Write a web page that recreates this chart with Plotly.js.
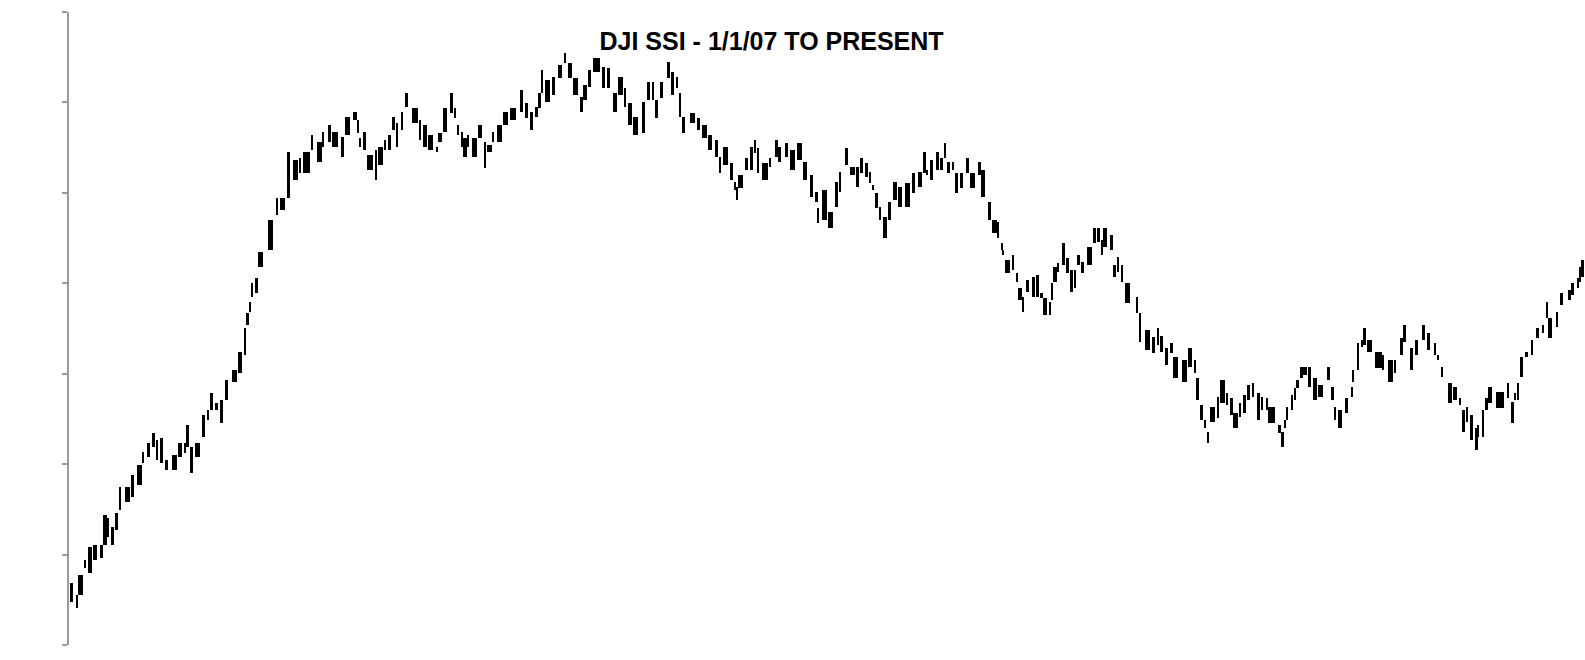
<!DOCTYPE html>
<html>
<head>
<meta charset="utf-8">
<script src="https://cdn.plot.ly/plotly-3.0.1.min.js"></script>
<style>html,body{margin:0;padding:0;background:#fff;}#chart{width:1585px;height:660px;}</style>
</head>
<body>
<div id="chart"></div>
<script>
// Trading sessions since 1/1/07 (first and last session of each high-low bar group)
const startDay = [2,9,10,17,20,25,32,35,40,44,47,52,57,64,69,75,79,84,89,92,97,104,110,117,119,122,127,134,140,142,147,152,157,164,170,177,179,182,184,187,190,200,209,212,219,225,232,235,244,249,255,260,264,274,277,285,290,292,295,299,308,310,317,320,324,329,334,337,344,352,355,360,369,370,375,382,387,390,394,395,400,404,410,417,419,425,429,435,441,452,457,462,467,470,474,477,484,490,497,500,505,512,515,520,525,534,539,545,550,557,560,565,574,579,585,587,592,599,604,609,612,614,622,629,634,640,647,652,655,662,667,669,670,677,682,687,690,694,702,707,710,717,722,729,735,742,747,750,754,760,767,772,777,782,789,792,797,802,805,807,812,815,820,825,830,837,844,850,855,859,862,869,872,877,879,885,887,892,899,902,910,913,920,924,930,934,935,937,945,949,950,955,959,964,969,972,975,982,984,985,990,994,999,1002,1007,1009,1014,1019,1025,1029,1034,1035,1042,1045,1050,1054,1057,1069,1072,1077,1084,1090,1092,1097,1102,1105,1114,1120,1127,1129,1132,1137,1140,1142,1150,1152,1159,1162,1165,1172,1175,1179,1185,1189,1194,1199,1200,1210,1214,1217,1219,1224,1227,1229,1232,1235,1240,1245,1250,1259,1264,1267,1270,1277,1284,1285,1290,1294,1295,1299,1307,1315,1320,1327,1332,1335,1342,1347,1354,1359,1367,1370,1374,1380,1385,1392,1394,1399,1402,1407,1410,1415,1417,1420,1427,1440,1444,1447,1450,1452,1457,1464,1469,1475,1479,1480,1489,1492,1500,1504,1510,1512,1514];
const endDay = [5,9,15,17,24,29,34,39,40,45,50,52,62,65,74,75,82,87,89,95,100,109,114,117,120,125,132,137,140,145,149,155,160,169,174,177,180,182,184,189,195,205,209,217,222,230,232,242,244,254,255,262,270,275,282,289,290,292,297,305,308,315,317,322,327,329,334,340,350,352,359,365,369,374,379,385,387,390,394,399,400,409,414,417,424,425,434,440,449,455,460,465,469,472,474,482,487,494,497,504,510,514,519,522,532,537,542,549,555,557,564,570,577,582,585,590,595,602,605,609,612,617,627,632,639,644,650,652,660,665,667,669,675,679,685,687,690,700,702,709,712,720,727,734,739,745,749,750,759,765,770,772,780,787,790,795,799,802,805,810,812,819,822,829,834,842,847,854,857,859,865,870,875,877,882,885,889,894,900,907,912,917,922,929,930,934,935,942,945,949,954,955,960,967,970,974,979,982,984,989,990,997,1000,1004,1007,1012,1015,1024,1027,1032,1034,1039,1044,1047,1050,1054,1062,1069,1072,1082,1087,1090,1095,1099,1104,1110,1119,1124,1127,1130,1134,1137,1140,1147,1150,1157,1159,1164,1170,1172,1177,1182,1185,1192,1194,1199,1207,1212,1215,1217,1219,1224,1227,1230,1234,1239,1242,1249,1255,1262,1265,1267,1274,1280,1284,1285,1290,1294,1297,1304,1314,1315,1325,1327,1334,1337,1345,1350,1357,1362,1367,1370,1374,1384,1389,1392,1397,1399,1405,1409,1410,1415,1419,1424,1437,1440,1445,1447,1450,1455,1459,1464,1470,1475,1479,1484,1489,1494,1502,1505,1510,1512,1515];
const high = [62,50,70,85,98,100,100,130,127,118,132,158,158,170,180,193,202,212,205,207,185,190,202,202,220,198,202,230,235,252,242,245,265,275,293,317,332,343,362,367,393,425,447,447,493,485,487,493,510,503,513,520,513,508,528,533,525,507,513,490,495,498,505,510,528,522,533,552,537,525,520,510,498,512,537,552,537,520,513,507,510,507,520,503,500,513,520,533,537,555,542,533,538,552,575,565,568,580,592,582,567,548,560,575,587,578,577,552,568,557,542,528,543,563,563,545,563,583,573,568,552,528,532,527,520,510,505,488,498,482,463,458,470,487,498,505,497,482,487,505,498,502,495,502,483,470,453,437,455,433,463,473,497,478,478,487,482,473,460,452,438,428,443,463,458,462,472,473,493,475,485,493,487,502,483,483,472,472,487,472,483,475,443,425,423,402,395,385,390,372,357,348,365,368,370,352,347,343,362,378,382,402,387,375,375,390,383,398,417,417,405,417,410,380,388,380,362,348,332,315,308,317,309,297,302,288,285,297,285,267,240,225,213,238,248,265,252,247,232,242,250,260,262,252,248,247,238,220,213,225,238,250,257,265,278,278,278,267,260,278,258,238,235,247,258,275,302,305,317,305,293,290,285,285,307,320,297,305,320,312,302,290,278,262,258,247,235,238,230,217,220,235,247,258,253,262,243,252,262,288,293,305,317,320,343,327,333,352,355,362,367,378,385];
const low = [43,37,50,77,72,85,87,100,108,100,115,135,143,148,160,182,188,198,185,182,175,175,188,192,198,172,188,208,225,235,235,222,245,263,272,290,320,333,348,352,378,395,430,435,447,465,472,472,495,483,498,503,498,488,510,525,512,498,495,475,465,480,495,495,515,498,515,538,522,505,498,495,493,503,513,532,527,510,498,488,498,488,507,477,493,503,503,520,525,533,527,515,528,537,552,543,550,567,582,567,550,533,545,558,573,557,557,533,550,538,520,510,512,545,545,527,547,567,550,557,528,512,522,515,507,495,488,472,480,465,455,445,457,475,475,492,472,465,478,488,483,488,475,485,465,448,443,422,425,417,438,453,480,470,458,472,468,462,455,437,425,407,425,445,438,438,452,458,472,470,465,475,475,487,472,475,452,457,472,457,470,448,425,412,407,395,390,372,375,363,345,333,353,348,348,347,330,330,345,363,373,380,372,353,357,380,372,380,402,403,390,398,395,368,373,363,342,332,303,295,292,300,293,280,292,267,263,278,272,245,225,217,202,223,227,242,240,230,217,228,232,245,248,225,235,235,222,212,198,217,225,235,245,257,267,270,258,245,248,265,245,225,217,232,248,263,275,298,300,293,277,275,263,272,290,303,275,290,305,295,290,285,268,242,245,240,213,223,205,195,208,208,235,242,237,247,222,245,245,268,288,290,307,312,327,307,318,340,345,350,357,363,368];

const xs = startDay.map((s, i) => (s + endDay[i]) / 2);
const ws = startDay.map((s, i) => (endDay[i] - s) * 0.65 + 1.7);
const lens = high.map((h, i) => h - low[i]);

const trace = {
  type: 'bar',
  x: xs,
  y: lens,
  base: low,
  width: ws,
  marker: {color: '#000000', line: {width: 0}},
  hoverinfo: 'skip'
};

const layout = {
  width: 1585,
  height: 660,
  margin: {l: 69, r: 0, t: 12, b: 15, pad: 0},
  paper_bgcolor: '#ffffff',
  plot_bgcolor: '#ffffff',
  showlegend: false,
  title: {
    text: 'DJI SSI - 1/1/07 TO PRESENT',
    font: {family: 'Liberation Sans, Arial, sans-serif', size: 25, color: '#000000', weight: 'bold'},
    xref: 'container', x: 0.4868, xanchor: 'center',
    yref: 'container', y: 0.938, yanchor: 'middle'
  },
  xaxis: {
    visible: false,
    range: [1, 1517],
    showgrid: false,
    zeroline: false
  },
  yaxis: {
    range: [0, 633],
    tick0: 0,
    dtick: 633 / 7,
    showticklabels: false,
    ticks: 'outside',
    ticklen: 5,
    tickwidth: 2,
    tickcolor: '#9a9a9a',
    showline: true,
    linecolor: '#9a9a9a',
    linewidth: 2,
    showgrid: false,
    zeroline: false
  },
  bargap: 0
};

Plotly.newPlot('chart', [trace], layout, {staticPlot: true, displayModeBar: false});
</script>
</body>
</html>
